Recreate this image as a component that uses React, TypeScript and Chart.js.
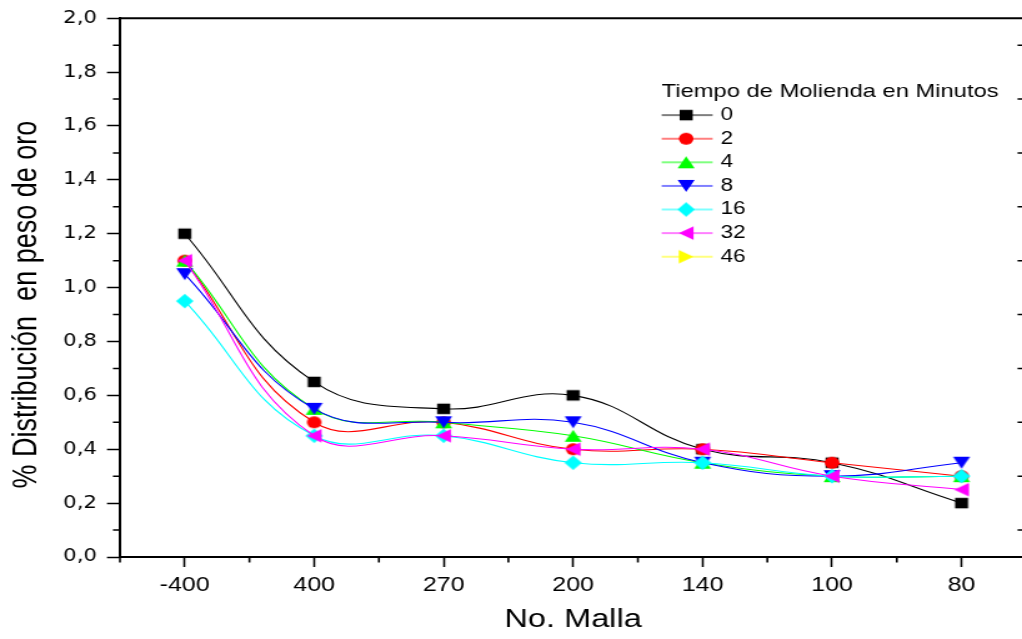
import React, { useEffect, useRef } from 'react';
import { Chart, registerables } from 'chart.js';

Chart.register(...registerables);

// ---------- data ----------
const categories = ['-400', '400', '270', '200', '140', '100', '80'];
const seriesNames = ['0', '2', '4', '8', '16', '32', '46'];
const serie0 = [1.2, 0.65, 0.55, 0.6, 0.4, 0.35, 0.2];
const serie2 = [1.1, 0.5, 0.5, 0.4, 0.4, 0.35, 0.3];
const serie4 = [1.1, 0.55, 0.5, 0.45, 0.35, 0.3, 0.3];
const serie8 = [1.05, 0.55, 0.5, 0.5, 0.35, 0.3, 0.35];
const serie16 = [0.95, 0.45, 0.45, 0.35, 0.35, 0.3, 0.3];
const serie32 = [1.1, 0.45, 0.45, 0.4, 0.4, 0.3, 0.25];
const serie46: number[] = [];
const yTickLabels = ['0,0', '0,2', '0,4', '0,6', '0,8', '1,0', '1,2', '1,4', '1,6', '1,8', '2,0'];

const xTitle = 'No. Malla';
const yTitle = '% Distribución  en peso de oro';
const legendTitle = 'Tiempo de Molienda en Minutos';

// ---------- styles ----------
const seriesColors = ['#000000', '#ff0000', '#00ff00', '#0000ff', '#00ffff', '#ff00ff', '#ffff00'];
const seriesShapes = ['square', 'circle', 'up', 'down', 'diamond', 'left', 'right'];

// The reference is horizontally stretched: draw on a narrower canvas and stretch with CSS.
const SCREEN_W = 1022;
const SCREEN_H = 639;
const STRETCH = 1.25;
const DRAW_W = Math.round(SCREEN_W / STRETCH);
const AREA_RIGHT = 1026.8 / STRETCH; // plot frame right edge lies just outside the picture

const FONT = "'Liberation Sans', Arial, Helvetica, sans-serif";

function drawShape(g: CanvasRenderingContext2D, shape: string, cx: number, cy: number, color: string) {
  g.fillStyle = color;
  g.beginPath();
  switch (shape) {
    case 'square':
      g.rect(cx - 5.25, cy - 5.25, 10.5, 10.5);
      break;
    case 'circle':
      g.arc(cx, cy, 5.9, 0, Math.PI * 2);
      break;
    case 'up':
      g.moveTo(cx, cy - 5.9);
      g.lineTo(cx + 6.8, cy + 5.9);
      g.lineTo(cx - 6.8, cy + 5.9);
      break;
    case 'down':
      g.moveTo(cx, cy + 5.9);
      g.lineTo(cx + 6.8, cy - 5.9);
      g.lineTo(cx - 6.8, cy - 5.9);
      break;
    case 'left':
      g.moveTo(cx - 5.9, cy);
      g.lineTo(cx + 5.9, cy - 6.8);
      g.lineTo(cx + 5.9, cy + 6.8);
      break;
    case 'right':
      g.moveTo(cx + 5.9, cy);
      g.lineTo(cx - 5.9, cy - 6.8);
      g.lineTo(cx - 5.9, cy + 6.8);
      break;
    case 'diamond':
      g.moveTo(cx, cy - 7.25);
      g.lineTo(cx + 7, cy);
      g.lineTo(cx, cy + 7.25);
      g.lineTo(cx - 7, cy);
      break;
  }
  g.closePath();
  g.fill();
}

function makeMarker(shape: string, color: string): HTMLCanvasElement {
  const c = document.createElement('canvas');
  c.width = 18;
  c.height = 18;
  const g = c.getContext('2d')!;
  drawShape(g, shape, 9, 9, color);
  return c;
}

function makeLegendIcon(shape: string, color: string): HTMLCanvasElement {
  const c = document.createElement('canvas');
  c.width = 47;
  c.height = 18;
  const g = c.getContext('2d')!;
  g.strokeStyle = color;
  g.lineWidth = 1.2;
  g.beginPath();
  g.moveTo(0, 9);
  g.lineTo(42.4, 9);
  g.stroke();
  drawShape(g, shape, 21.2, 9, color);
  return c;
}

const LEGEND_X = 529.6;
const LEGEND_Y = 82.5;
const Y_TITLE_SHIFT = 17;

const framePlugin = {
  id: 'frameAndMinorTicks',
  afterLayout(chart: any) {
    // extend the plot frame to the right edge used by the reference
    const a = chart.chartArea;
    const xs = chart.scales.x;
    a.right = AREA_RIGHT;
    a.width = AREA_RIGHT - a.left;
    xs.right = AREA_RIGHT;
    xs.width = AREA_RIGHT - xs.left;
    xs.configure();
  },
  beforeDraw(chart: any) {
    const lg = chart.legend;
    if (lg) {
      lg.left = LEGEND_X;
      lg.top = LEGEND_Y;
      lg.width = 300;
      lg.height = 300;
      lg.right = LEGEND_X + 300;
      lg.bottom = LEGEND_Y + 300;
    }
    const ys = chart.scales.y;
    if (ys && !ys.__titlePatched) {
      const orig = ys.drawTitle;
      ys.drawTitle = function (this: any) {
        const c = this.ctx;
        c.save();
        c.translate(0, Y_TITLE_SHIFT);
        orig.call(this);
        c.restore();
      };
      ys.__titlePatched = true;
    }
  },
  afterDraw(chart: any) {
    const { ctx, chartArea: a, scales } = chart;
    const xs = scales.x;
    const ys = scales.y;
    ctx.save();
    ctx.strokeStyle = '#000';
    // top frame line
    ctx.lineWidth = 2;
    ctx.beginPath();
    ctx.moveTo(a.left - 1, a.top);
    ctx.lineTo(a.right, a.top);
    ctx.stroke();
    // y minor ticks (left outward, right inward)
    ctx.lineWidth = 1.5;
    const yt = ys.ticks;
    for (let i = 0; i < yt.length - 1; i++) {
      const p = ys.getPixelForValue((yt[i].value + yt[i + 1].value) / 2);
      ctx.beginPath();
      ctx.moveTo(a.left - 5.6, p);
      ctx.lineTo(a.left, p);
      ctx.moveTo(a.right - 7, p);
      ctx.lineTo(a.right, p);
      ctx.stroke();
    }
    // x minor ticks
    ctx.lineWidth = 1.6;
    for (let i = -1; i < categories.length; i++) {
      const p = xs.getPixelForValue(i + 0.5);
      ctx.beginPath();
      ctx.moveTo(p, a.bottom);
      ctx.lineTo(p, a.bottom + 5.5);
      ctx.stroke();
    }
    ctx.restore();
  },
};

export default function App() {
  const ref = useRef<HTMLCanvasElement>(null);

  useEffect(() => {
    const canvas = ref.current;
    if (!canvas) return;
    const seriesData = [serie0, serie2, serie4, serie8, serie16, serie32, serie46];
    const markers = seriesShapes.map((s, i) => makeMarker(s, seriesColors[i]));
    const legendIcons = seriesShapes.map((s, i) => makeLegendIcon(s, seriesColors[i]));

    const datasets = seriesData.map((d, i) => ({
      label: seriesNames[i],
      data: d,
      borderColor: seriesColors[i],
      backgroundColor: seriesColors[i],
      borderWidth: 1.1,
      pointStyle: markers[i] as any,
      pointRadius: 6,
      pointHoverRadius: 6,
      tension: 0.42,
      order: seriesData.length - 1 - i,
      clip: false as any,
    }));

    const chart = new Chart(canvas, {
      type: 'line',
      data: { labels: categories, datasets },
      options: {
        animation: false,
        responsive: false,
        maintainAspectRatio: false,
        devicePixelRatio: 1,
        events: [],
        layout: { padding: { left: 0, right: 0, top: 18, bottom: 0 } },
        plugins: {
          tooltip: { enabled: false },
          legend: {
            display: true,
            position: 'chartArea' as any,
            align: 'start',
            labels: {
              usePointStyle: true,
              pointStyleWidth: 32.6,
              padding: 5.6,
              color: '#000',
              font: { family: FONT, size: 18 },
              generateLabels: () =>
                seriesNames.map((n, i) => ({
                  text: n,
                  pointStyle: legendIcons[i] as any,
                  fillStyle: seriesColors[i],
                  strokeStyle: seriesColors[i],
                  lineWidth: 0,
                  hidden: false,
                  datasetIndex: i,
                  fontColor: '#000',
                })),
            },
            title: {
              display: true,
              text: legendTitle,
              color: '#000',
              position: 'start',
              font: { family: FONT, size: 19, lineHeight: 1 },
              padding: { top: 0, bottom: -1 },
            },
          },
        },
        scales: {
          x: {
            type: 'category',
            offset: true,
            grid: {
              offset: false,
              drawOnChartArea: false,
              drawTicks: true,
              tickLength: 10,
              tickColor: '#000',
              tickWidth: 1.6,
            },
            border: { display: true, color: '#000', width: 2 },
            ticks: {
              color: '#000',
              font: { family: FONT, size: 20 },
              padding: 6,
              maxRotation: 0,
              minRotation: 0,
              autoSkip: false,
            },
            title: {
              display: true,
              text: xTitle,
              color: '#000',
              font: { family: FONT, size: 26 },
              padding: { top: 0, bottom: 3.4 },
            },
            afterFit: (s: any) => {
              s.height = 82;
              s.paddingLeft = 0;
              s.paddingRight = 0;
            },
          },
          y: {
            type: 'linear',
            min: 0,
            max: 2,
            grid: {
              drawOnChartArea: false,
              drawTicks: true,
              tickLength: 10.4,
              tickColor: '#000',
              tickWidth: 1.5,
            },
            border: { display: true, color: '#000', width: 2 },
            ticks: {
              stepSize: 0.2,
              color: '#000',
              font: { family: "'DejaVu Sans', sans-serif", size: 17 },
              padding: 8,
              callback: (_v: any, i: number) => yTickLabels[i],
            },
            title: {
              display: true,
              text: yTitle,
              color: '#000',
              font: { family: FONT, size: 27 },
              padding: { top: 5, bottom: 0 },
            },
            afterFit: (s: any) => {
              s.width = 96;
            },
          },
        },
      },
      plugins: [framePlugin],
    } as any);

    return () => chart.destroy();
  }, []);

  return (
    <div
      style={{
        position: 'fixed',
        left: 0,
        top: 0,
        width: SCREEN_W,
        height: SCREEN_H,
        overflow: 'hidden',
        background: '#fff',
      }}
    >
      <canvas
        ref={ref}
        width={DRAW_W}
        height={SCREEN_H}
        style={{ width: `${SCREEN_W}px`, height: `${SCREEN_H}px`, display: 'block' }}
      />
    </div>
  );
}
